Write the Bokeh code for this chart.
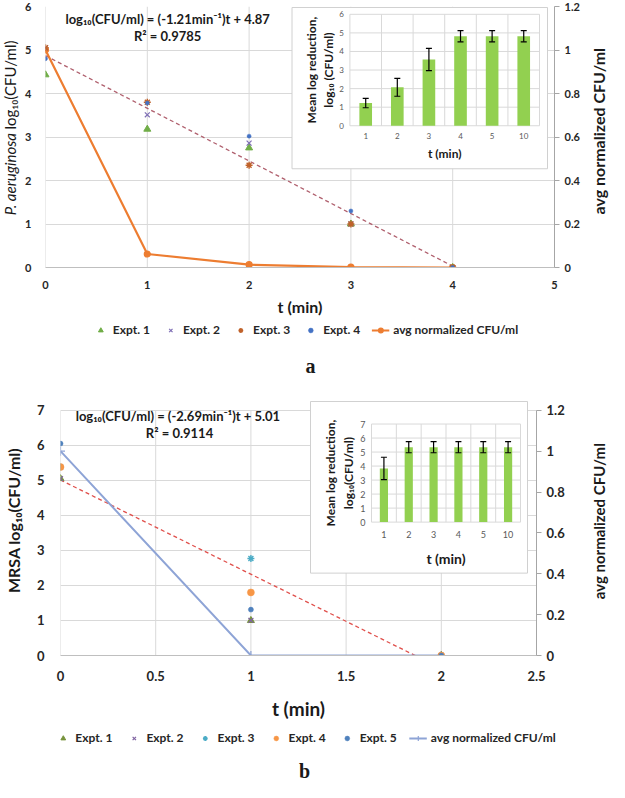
import math
import numpy as np
from bokeh.plotting import figure
from bokeh.models import (Range1d, LinearAxis, FixedTicker, NumeralTickFormatter, Label,
                          Legend, LegendItem, ColumnDataSource, Whisker, TeeHead)
from bokeh.layouts import column, row
from bokeh.embed import file_html
from bokeh.resources import INLINE
from bokeh.core.properties import value

FONT = "Lato"
SERIF = "Liberation Serif"
GRID = "#d9d9d9"
PAGE_W = 609

# ---------------- panel a data ----------------
a_t = [0, 1, 2, 3, 4]
a_expt1 = [4.43, 3.18, 2.75, 1.0, 0.0]
a_expt2 = [5.05, 3.51, 2.86, 1.0, 0.0]
a_expt3 = [5.05, 3.80, 2.35, 1.0, 0.0]
a_expt4 = [4.80, 3.78, 3.02, 1.30, 0.0]
a_avg_norm = [1.0, 0.062, 0.013, 0.002, 0.0]
a_fit_slope = -1.21
a_fit_intercept = 4.87
a_fit_r2 = 0.9785
a_x_ticks = [0, 1, 2, 3, 4, 5]
a_y_ticks = [0, 1, 2, 3, 4, 5, 6]
a_norm_ticks = [0, 0.2, 0.4, 0.6, 0.8, 1.0, 1.2]

inset_t_labels = ["1", "2", "3", "4", "5", "10"]
a_inset_mean = [1.22, 2.07, 3.57, 4.82, 4.82, 4.82]
a_inset_err = [0.25, 0.48, 0.60, 0.30, 0.30, 0.30]
a_inset_y_ticks = [0, 1, 2, 3, 4, 5, 6]

# ---------------- panel b data ----------------
b_t = [0, 1, 2]
b_expt1 = [5.05, 1.0, 0.0]
b_expt2 = [5.05, 1.0, 0.0]
b_expt3 = [5.38, 2.77, 0.0]
b_expt4 = [5.38, 1.80, 0.0]
b_expt5 = [6.05, 1.31, 0.0]
b_avg_norm = [1.0, 0.0, 0.0]
b_fit_slope = -2.69
b_fit_intercept = 5.01
b_fit_r2 = 0.9114
b_x_ticks = [0, 0.5, 1, 1.5, 2, 2.5]
b_y_ticks = [0, 1, 2, 3, 4, 5, 6, 7]
b_norm_ticks = [0, 0.2, 0.4, 0.6, 0.8, 1.0, 1.2]
b_inset_mean = [3.83, 5.35, 5.35, 5.35, 5.35, 5.35]
b_inset_err = [0.80, 0.40, 0.40, 0.40, 0.40, 0.40]
b_inset_y_ticks = [0, 1, 2, 3, 4, 5, 6, 7]


def map_range(d0, d1, p0, p1, span):
    k = (d1 - d0) / (p1 - p0)
    start = d0 - p0 * k
    return start, start + span * k, k


def style_ticks(ax, size):
    ax.major_label_text_font = FONT
    ax.major_label_text_font_style = "bold"
    ax.major_label_text_font_size = size
    ax.major_label_text_color = "#262626"
    ax.minor_tick_line_color = None


def blank_fig(w, h):
    q = figure(width=w, height=h, x_range=Range1d(0, w), y_range=Range1d(0, h),
               x_axis_type=None, y_axis_type=None, output_backend="svg",
               toolbar_location=None, min_border=0)
    q.outline_line_color = None
    q.grid.visible = False
    return q


def side_title(w, h, parts, x_center, y_from_top, size):
    q = blank_fig(w, h)
    for (txt, style, align) in parts:
        q.add_layout(Label(x=x_center, y=h - y_from_top, text=txt, angle=math.pi / 2,
                           text_align=align, text_baseline="middle", text_font=FONT,
                           text_font_style=style, text_font_size=size,
                           text_color="#1a1a1a"))
    return q


def make_panel(L, D):
    ox, oy = L["origin"]
    W, H = L["W"], L["H"]
    fl, fr, ft, fb = [v - o for v, o in zip(L["frame"], (ox, ox, oy, oy))]
    fw, fh = fr - fl, fb - ft
    ymax_axis = D["y_ticks"][-1]
    ytop = ymax_axis * fh / (fb - (L["y_axis_top"] - oy))
    p = figure(width=W, height=H,
               x_range=Range1d(D["x_ticks"][0], D["x_ticks"][-1]), y_range=Range1d(0, ytop),
               min_border_left=fl, min_border_right=W - fr,
               min_border_top=ft, min_border_bottom=H - fb,
               output_backend="svg", toolbar_location=None)
    p.outline_line_color = None

    xa = p.xaxis[0]
    xa.ticker = FixedTicker(ticks=D["x_ticks"])
    xa.formatter = NumeralTickFormatter(format="0.[0]")
    xa.axis_line_color = "#bfbfbf"
    xa.major_tick_line_color = None
    xa.major_label_standoff = L["tick_standoff"]
    style_ticks(xa, L["tick_size"])
    xa.axis_label = "t (min)"
    xa.axis_label_text_font = FONT
    xa.axis_label_text_font_style = "bold"
    xa.axis_label_text_font_size = L["xtitle_size"]
    xa.axis_label_text_color = "#1a1a1a"
    xa.axis_label_standoff = L["xtitle_standoff"]

    ya = p.yaxis[0]
    ya.ticker = FixedTicker(ticks=D["y_ticks"])
    ya.formatter = NumeralTickFormatter(format="0")
    ya.bounds = (0, ymax_axis)
    ya.axis_line_color = None
    ya.major_tick_line_color = None
    ya.major_label_standoff = L["ytick_standoff"]
    style_ticks(ya, L["tick_size"])

    nmax = D["norm_ticks"][-1]
    ra = LinearAxis(y_range_name="norm", ticker=FixedTicker(ticks=D["norm_ticks"]),
                    formatter=NumeralTickFormatter(format="0.[0]"), bounds=(0, nmax))
    ra.axis_line_color = "#a6a6a6"
    ra.major_tick_line_color = "#a6a6a6"
    ra.major_tick_out = 5
    ra.major_tick_in = 0
    ra.major_label_standoff = 5
    style_ticks(ra, L["tick_size"])
    p.add_layout(ra, "right")

    p.ygrid.ticker = FixedTicker(ticks=D["y_ticks"])
    p.ygrid.grid_line_color = GRID
    p.xgrid.visible = False
    p.segment(x0=D["x_ticks"], y0=[0] * len(D["x_ticks"]), x1=D["x_ticks"],
              y1=[ymax_axis] * len(D["x_ticks"]), line_color=GRID, line_width=1,
              level="underlay")

    # ---------- inset ----------
    al, ar, at, ab = [v - o for v, o in zip(L["inset_area"], (ox, ox, oy, oy))]
    bl, br, bt, bb = [v - o for v, o in zip(L["inset_box"], (ox, ox, oy, oy))]
    n = len(inset_t_labels)
    ix0, ix1, kx = map_range(0.5, n + 0.5, al - fl, ar - fl, fw)
    iymax = D["inset_y_ticks"][-1]
    iy0, iy1, ky = map_range(0, iymax, fb - ab, fb - at, fh)
    p.extra_x_ranges = {"ix": Range1d(ix0, ix1)}
    p.extra_y_ranges = {"norm": Range1d(0, nmax * ytop / ymax_axis), "iy": Range1d(iy0, iy1)}
    rn = dict(x_range_name="ix", y_range_name="iy")
    p.quad(left=[ix0 + (bl - fl) * kx], right=[ix0 + (br - fl) * kx],
           bottom=[iy0 + (fb - bb) * ky], top=[iy0 + (fb - bt) * ky],
           fill_color="white", line_color="#d0d0d0", line_width=1, **rn)
    pos = list(range(1, n + 1))
    edges = [i + 0.5 for i in range(0, n + 1)]
    yt = D["inset_y_ticks"]
    p.segment(x0=[0.5] * len(yt), y0=yt, x1=[n + 0.5] * len(yt), y1=yt,
              line_color=GRID, line_width=1, **rn)
    p.segment(x0=edges, y0=[0] * len(edges), x1=edges, y1=[iymax] * len(edges),
              line_color=GRID, line_width=1, **rn)
    p.vbar(x=pos, top=D["inset_mean"], bottom=0, width=L["bar_width"],
           fill_color="#92D050", line_color=None, **rn)
    up = [m + e for m, e in zip(D["inset_mean"], D["inset_err"])]
    lo = [m - e for m, e in zip(D["inset_mean"], D["inset_err"])]
    wsrc = ColumnDataSource(dict(base=pos, upper=up, lower=lo))
    p.add_layout(Whisker(source=wsrc, base="base", upper="upper", lower="lower",
                         line_color="black", line_width=1.2, level="annotation",
                         upper_head=TeeHead(size=6, line_color="black", line_width=1.2),
                         lower_head=TeeHead(size=6, line_color="black", line_width=1.2),
                         **rn))
    p.text(x=[0.5] * len(yt), y=yt, text=[str(v) for v in yt], x_offset=-6,
           text_align="right", text_baseline="middle", text_font=value(FONT),
           text_font_size=L["inset_tick_size"], text_color="#595959", **rn)
    p.text(x=pos, y=[0] * n, text=inset_t_labels, y_offset=L["inset_xlab_off"],
           text_align="center", text_baseline="middle", text_font=value(FONT),
           text_font_size=L["inset_tick_size"], text_color="#595959", **rn)
    p.text(x=[(n + 1) / 2], y=[0], text=["t (min)"], y_offset=L["inset_xtitle_off"],
           text_align="center", text_baseline="middle", text_font=value(FONT),
           text_font_style="bold", text_font_size=L["inset_xtitle_size"],
           text_color="#1a1a1a", **rn)
    p.text(x=[0.5], y=[iymax / 2], text=[L["inset_ytitle"]], x_offset=L["inset_ytitle_off"],
           angle=math.pi / 2, text_align="center", text_baseline="middle",
           text_font=value(FONT), text_font_style="bold",
           text_font_size=L["inset_ytitle_size"], text_color="#1a1a1a",
           text_line_height=1.15, **rn)

    # ---------- fit line ----------
    tx = [min(D["t"]), max(D["t"])]
    p.line(x=tx, y=[D["slope"] * v + D["intercept"] for v in tx],
           line_color=D["fit_color"], line_dash="4 3", line_width=1.3)

    # ---------- normalized average ----------
    p.line(x=D["t"], y=D["avg_norm"], y_range_name="norm",
           line_color=D["avg_color"], line_width=D["avg_width"])
    p.scatter(x=D["t"], y=D["avg_norm"], y_range_name="norm",
              marker=D["avg_marker"], size=D["avg_msize"],
              fill_color=D["avg_color"], line_color=D["avg_color"], line_width=1.2)

    # ---------- experiments ----------
    for (lab, ys, mk, col, sz, lw) in D["expts"]:
        p.scatter(x=D["t"], y=ys, marker=mk, size=sz, fill_color=col,
                  line_color=col, line_width=lw)

    # ---------- equation ----------
    eq1 = "log₁₀(CFU/ml)" + D["eq_gap"] + "= ({:.2f}min⁻¹)t + {:.2f}".format(D["slope"], D["intercept"])
    eq2 = "R² = {:.4f}".format(D["r2"])
    for txt, yy in ((eq1, L["eq_y"][0]), (eq2, L["eq_y"][1])):
        p.add_layout(Label(x=L["eq_x"], y=yy, text=txt, text_align="center",
                           text_baseline="middle", text_font=FONT, text_font_style="bold",
                           text_font_size=L["eq_size"], text_color="#1a1a1a"))

    # ---------- side titles ----------
    lt = side_title(ox - 8, H, L["ytitle_parts"], (ox - 8) / 2 + L["ytitle_dx"],
                    L["ytitle_y"] - oy, L["ytitle_size"])
    rw = PAGE_W - (ox - 8) - W
    rt = side_title(rw, H, [("avg normalized CFU/ml", "bold", "center")],
                    L["rtitle_x"] - (ox + W), L["rtitle_y"] - oy, L["rtitle_size"])
    return row(lt, p, rt, spacing=0)


def make_legend_fig(L, D):
    H = L["leg_H"]
    q = blank_fig(PAGE_W, H)
    nan = np.array([np.nan])
    items = []
    for (lab, ys, mk, col, sz, lw) in D["expts"]:
        r = q.scatter(x=nan, y=nan, marker=mk, size=sz, fill_color=col,
                      line_color=col, line_width=lw)
        items.append(LegendItem(label=lab, renderers=[r]))
    rl = q.line(x=nan, y=nan, line_color=D["avg_color"], line_width=D["avg_width"])
    rm = q.scatter(x=nan, y=nan, marker=D["avg_marker"], size=D["avg_msize"],
                   fill_color=D["avg_color"], line_color=D["avg_color"], line_width=1.2)
    items.append(LegendItem(label="avg normalized CFU/ml", renderers=[rl, rm]))
    leg = Legend(items=items, orientation="horizontal", location="top_center",
                 label_text_font=FONT, label_text_font_style="bold",
                 label_text_font_size=L["legend_size"], label_text_color="#262626",
                 border_line_color=None, background_fill_alpha=0,
                 spacing=L["legend_spacing"], glyph_width=18, glyph_height=12,
                 label_standoff=4, padding=0, margin=L["legend_top"])
    q.add_layout(leg)
    q.add_layout(Label(x=L["letter_x"] - 8, y=H - L["letter_y"], text=L["letter"],
                       text_align="center", text_baseline="middle", text_font=SERIF,
                       text_font_style="bold", text_font_size="20px", text_color="#1a1a1a"))
    return q


# layout positions below are page pixels (top-left of window)
LA = dict(origin=(30, 8), W=564, H=318, frame=(52, 562, 14, 281), y_axis_top=14,
          inset_area=(357, 547, 22, 136), inset_box=(299, 555, 15, 180),
          bar_width=0.4, inset_tick_size="8px", inset_xlab_off=10, inset_xtitle_off=28,
          inset_xtitle_size="12px", inset_ytitle="Mean log reduction,\nlog₁₀ (CFU/ml)",
          inset_ytitle_off=-30, inset_ytitle_size="12px",
          tick_size="11px", tick_standoff=7, ytick_standoff=8,
          xtitle_size="16px", xtitle_standoff=5,
          ytitle_parts=[("P. aeruginosa ", "italic", "right"), ("log₁₀(CFU/ml)", "normal", "left")],
          ytitle_y=158, ytitle_dx=-2, ytitle_size="15px",
          rtitle_x=606, rtitle_y=160, rtitle_size="16px",
          eq_x=1.2, eq_y=(5.72, 5.33), eq_size="13px",
          leg_H=68, legend_size="12px", legend_spacing=11, legend_top=4,
          letter="a", letter_x=318, letter_y=47)

DA = dict(t=a_t, avg_norm=a_avg_norm, slope=a_fit_slope, intercept=a_fit_intercept,
          r2=a_fit_r2, x_ticks=a_x_ticks, y_ticks=a_y_ticks, norm_ticks=a_norm_ticks,
          inset_mean=a_inset_mean, inset_err=a_inset_err, inset_y_ticks=a_inset_y_ticks,
          fit_color="#B0606E", avg_color="#ED7D31", avg_width=2.2, avg_marker="circle",
          avg_msize=6, eq_gap=" ",
          expts=[("Expt. 1", a_expt1, "triangle", "#70AD47", 7, 1.0),
                 ("Expt. 2", a_expt2, "x", "#7F6FB5", 7, 1.2),
                 ("Expt. 3", a_expt3, "asterisk", "#C0622A", 7, 1.4),
                 ("Expt. 4", a_expt4, "circle", "#4472C4", 4, 0.5)])

LB = dict(origin=(34, 394), W=546, H=336, frame=(68, 544, 408, 668), y_axis_top=418,
          inset_area=(379, 528, 432, 532), inset_box=(318, 535, 409, 584),
          bar_width=0.33, inset_tick_size="9px", inset_xlab_off=12, inset_xtitle_off=36,
          inset_xtitle_size="14px", inset_ytitle="Mean log reduction,\nlog₁₀(CFU/ml)",
          inset_ytitle_off=-32, inset_ytitle_size="12px",
          tick_size="13px", tick_standoff=9, ytick_standoff=10,
          xtitle_size="19px", xtitle_standoff=13,
          ytitle_parts=[("MRSA log₁₀(CFU/ml)", "bold", "center")],
          ytitle_y=552, ytitle_dx=0, ytitle_size="16px",
          rtitle_x=606, rtitle_y=553, rtitle_size="15px",
          eq_x=0.625, eq_y=(6.83, 6.36), eq_size="13px",
          leg_H=60, legend_size="12px", legend_spacing=12, legend_top=8,
          letter="b", letter_x=312, letter_y=48)

DB = dict(t=b_t, avg_norm=b_avg_norm, slope=b_fit_slope, intercept=b_fit_intercept,
          r2=b_fit_r2, x_ticks=b_x_ticks, y_ticks=b_y_ticks, norm_ticks=b_norm_ticks,
          inset_mean=b_inset_mean, inset_err=b_inset_err, inset_y_ticks=b_inset_y_ticks,
          fit_color="#E0504C", avg_color="#8EA4D6", avg_width=2.0, avg_marker="cross",
          avg_msize=9, eq_gap="  ",
          expts=[("Expt. 1", b_expt1, "triangle", "#77933C", 7, 1.0),
                 ("Expt. 2", b_expt2, "x", "#8064A2", 7, 1.2),
                 ("Expt. 3", b_expt3, "asterisk", "#4BACC6", 7, 1.4),
                 ("Expt. 4", b_expt4, "circle", "#F79646", 7, 0.5),
                 ("Expt. 5", b_expt5, "circle", "#4F81BD", 5, 0.5)])

page = column(make_panel(LA, DA), make_legend_fig(LA, DA),
              make_panel(LB, DB), make_legend_fig(LB, DB), spacing=0)
open("out.html", "w").write(file_html(page, INLINE))
